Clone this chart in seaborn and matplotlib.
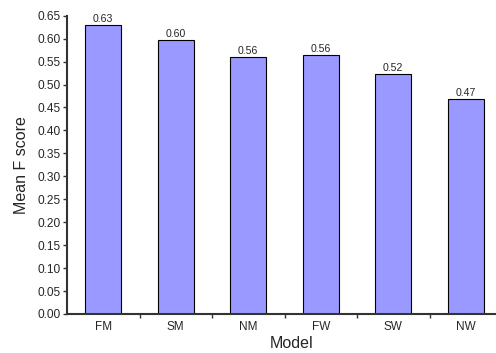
import numpy as np
import pandas
import seaborn
from matplotlib import pyplot
from matplotlib.ticker import FixedLocator

MODELS = ['FM', 'SM', 'NM', 'FW', 'SW', 'NW']
SCORES = [0.630, 0.598, 0.561, 0.564, 0.524, 0.469]
LABELS = ['0.63', '0.60', '0.56', '0.56', '0.52', '0.47']

seaborn.set_style('ticks')
pyplot.rcParams['font.family'] = ['Liberation Sans', 'DejaVu Sans']

data = pandas.DataFrame({'Model': MODELS, 'score': SCORES})

fig = pyplot.figure(figsize=(4.96, 3.53), dpi=100)
W, H = 496, 353
ax = fig.add_axes([67 / W, 1 - 314 / H, 435 / W, (314 - 15.7) / H])

seaborn.barplot(data, x='Model', y='score', color='#9999ff', saturation=1,
                width=0.5, edgecolor='black', linewidth=0.8, ax=ax)

for bar, lab in zip(ax.patches, LABELS):
    ax.text(bar.get_x() + bar.get_width() / 2, bar.get_height() + 0.002, lab,
            ha='center', va='bottom', fontsize=7.6)

ax.set_xlim(-0.5, 5.5)
ax.set_ylim(0, 0.65)
ax.set_yticks(np.arange(0, 0.651, 0.05))
ax.set_yticklabels(['%.2f' % v for v in np.arange(0, 0.651, 0.05)])
ax.xaxis.set_minor_locator(FixedLocator(np.arange(0.5, 5.5, 1)))
ax.tick_params(axis='x', which='major', length=0, pad=5, labelsize=8.5)
ax.tick_params(axis='x', which='minor', length=3, width=1, color='#333333')
ax.tick_params(axis='y', length=3, width=1, color='#333333', pad=1.5, labelsize=8.6)

for side in ['top', 'right']:
    ax.spines[side].set_visible(False)
for side in ['left', 'bottom']:
    ax.spines[side].set_linewidth(1.5)
    ax.spines[side].set_color('#333333')

ax.set_xlabel('Model', fontsize=11.5)
ax.set_ylabel('Mean F score', fontsize=11.5)
ax.xaxis.set_label_coords((292 - 67) / 435, -(344 - 314) / (314 - 15.7))
ax.yaxis.set_label_coords(-(67 - 22) / 435, 0.5)
ax.xaxis.label.set_va('center')
ax.yaxis.label.set_va('center')

fig.savefig('out.png', dpi=100)
